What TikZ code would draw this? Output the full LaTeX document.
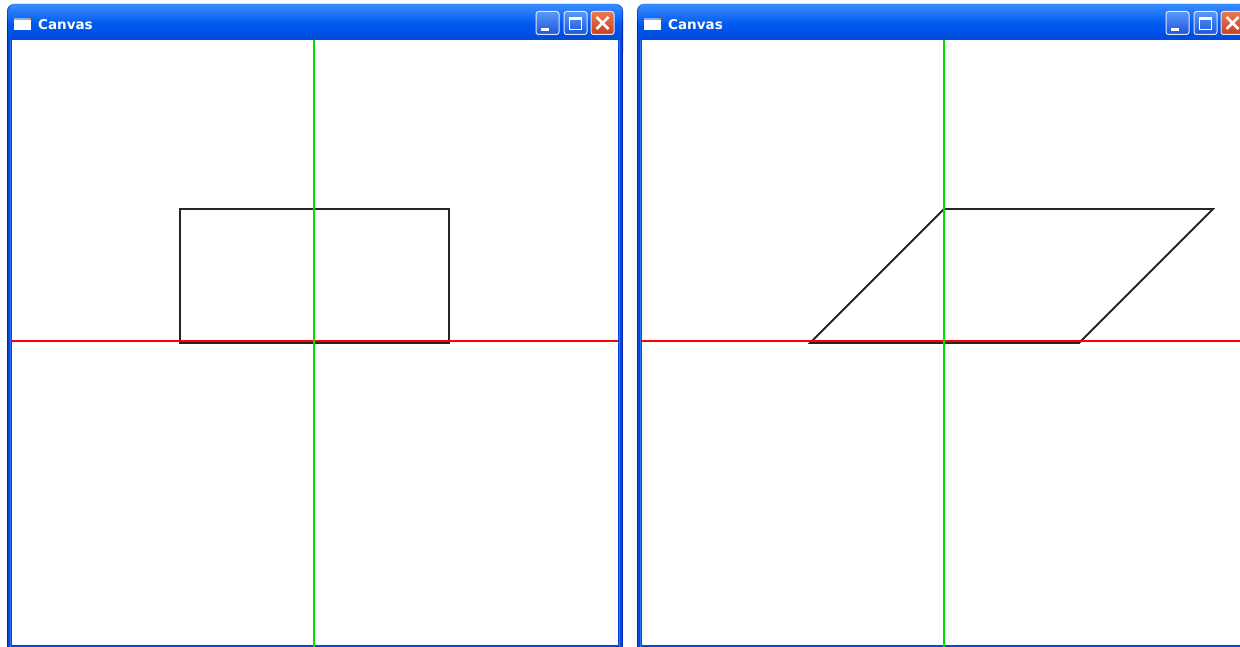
\documentclass[tikz,border=0pt]{standalone}
\usepackage{fontspec}
\newfontfamily\titlefont{DejaVu Sans}
\definecolor{xpframe}{HTML}{0A46DC}
\definecolor{xpedge}{HTML}{0026B8}
\definecolor{xplight}{HTML}{2A78F4}
\definecolor{xptop}{HTML}{3A8DFF}
\definecolor{xpmid}{HTML}{0059EF}
\definecolor{xpbot}{HTML}{0046D4}
\definecolor{btntop}{HTML}{5A98FA}
\definecolor{btnbot}{HTML}{1E55D6}
\definecolor{btnedge}{HTML}{DCE8FF}
\definecolor{closetop}{HTML}{EC7A55}
\definecolor{closebot}{HTML}{C8401A}
\definecolor{axisgreen}{HTML}{00E000}
\definecolor{axisred}{RGB}{255,0,0}

\begin{document}
\begin{tikzpicture}[x=1pt, y=-1pt]
\tikzset{
    winframe/.style={fill=xpframe},
    titlebar/.style={top color=xptop, bottom color=xpbot, middle color=xpmid},
    winbutton/.style={
        draw=btnedge,
        line width=1pt,
        rounded corners=2.5pt,
        top color=btntop,
        bottom color=btnbot,
    },
    closebutton/.style={winbutton, top color=closetop, bottom color=closebot},
    titletext/.style={
        font=\titlefont\bfseries\fontsize{13.5}{15}\selectfont,
        text=white,
        anchor=west,
        inner sep=0pt,
    },
    redaxis/.style={fill=axisred},
    greenaxis/.style={draw=axisgreen, line width=1.2pt},
    figure/.style={draw=black!85, line width=1.8pt},
}

    \useasboundingbox (0,0) rectangle (1240,647);
    \clip (0,0) rectangle (1240,647);

    % the two windows, the second one 630 further right
    \foreach \ox/\w in {0/left, 630/right} {
        \begin{scope}[xshift=\ox]
            % frame and title bar
            \fill[winframe, rounded corners=7pt] (7,4) rectangle (623,60);
            \fill[winframe] (7,30) rectangle (623,650);
            \shade[titlebar, rounded corners=7pt] (8,4) rectangle (622,44);
            \draw[xplight, line width=1pt] (10.5,40) -- (10.5,650);
            \draw[xplight, line width=1pt] (619.5,40) -- (619.5,650);
            \draw[xpedge, line width=1pt] (7.5,20) -- (7.5,650);
            \draw[xpedge, line width=1pt] (622.5,20) -- (622.5,650);
            \fill[white] (12,40) rectangle (618,645);

            % icon and caption
            \fill[white] (14,18) rectangle (31,30);
            \fill[xplight!60] (14,18) rectangle (31,20.5);
            \fill[orange] (29,18) rectangle (31,20);
            \node[titletext] (title-\w) at (38,24.5) {Canvas};

            % buttons
            \draw[winbutton] (536,11.5) rectangle (559,34.5);
            \fill[white] (541,28) rectangle (549,31);
            \draw[winbutton] (564,11.5) rectangle (587,34.5);
            \draw[white, line width=1.3pt] (569.5,18) rectangle (581.5,29.5);
            \fill[white] (569,17.5) rectangle (582,20.5);
            \draw[closebutton] (591,11.5) rectangle (614,34.5);
            \draw[white, line width=2.6pt] (596.5,17) -- (608.5,29) (596.5,29) -- (608.5,17);
        \end{scope}
    }

    % "contents" of left window
    \draw[figure] (180,209) rectangle (449,343);
    \fill[redaxis] (12,340) rectangle (618,342);
    \draw[greenaxis] (314,40) -- (314,647);

    % "contents" of right window
    \draw[figure, line join=miter] (810,343) -- (944,209) -- (1213,209) -- (1079,343) -- cycle;
    \fill[redaxis] (642,340) rectangle (1240,342);
    \draw[greenaxis] (944,40) -- (944,647);

\end{tikzpicture}
\end{document}
